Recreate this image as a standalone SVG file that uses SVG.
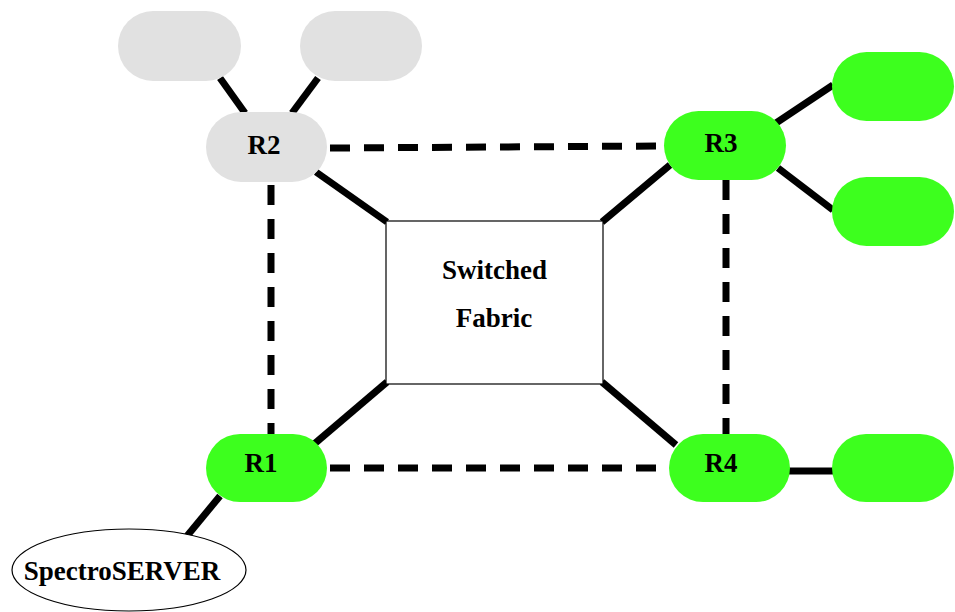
<svg xmlns="http://www.w3.org/2000/svg" width="955" height="612" viewBox="0 0 955 612">
<style>
.solid{stroke:#000;stroke-width:7;fill:none}
.dash{stroke:#000;stroke-width:7;fill:none;stroke-dasharray:20 14}
.gray{fill:#e1e1e1}
.green{fill:#3dff1e}
.lbl{font-family:"Liberation Serif","Times New Roman",serif;font-weight:bold;font-size:27px;fill:#000;text-anchor:middle}
</style>
<rect width="955" height="612" fill="#fff"/>
<g id="connectors">
<line class="solid" x1="220" y1="78" x2="245" y2="113"/>
<line class="solid" x1="318" y1="78" x2="292" y2="113"/>
<line class="solid" x1="316" y1="172" x2="387" y2="222"/>
<line class="solid" x1="670" y1="165" x2="602" y2="222"/>
<line class="solid" x1="776" y1="123" x2="833" y2="85"/>
<line class="solid" x1="778" y1="168" x2="833" y2="210"/>
<line class="solid" x1="313" y1="445" x2="387" y2="382"/>
<line class="solid" x1="602" y1="382" x2="676" y2="445"/>
<line class="solid" x1="789" y1="471" x2="833" y2="471"/>
<line class="solid" x1="220" y1="496" x2="187" y2="536"/>
<line class="dash" x1="330" y1="148" x2="664" y2="146"/>
<line class="dash" x1="271" y1="185" x2="271" y2="434"/>
<line class="dash" x1="330" y1="468" x2="669" y2="468"/>
<line class="dash" x1="726" y1="180" x2="726" y2="434"/>
</g>
<g id="g1"><rect class="gray" x="118" y="11" width="123" height="70" rx="35"/></g>
<g id="g2"><rect class="gray" x="300" y="11" width="122" height="70" rx="35"/></g>
<g id="R2"><rect class="gray" x="206" y="112" width="121" height="70" rx="35"/><text class="lbl" x="264" y="154">R2</text></g>
<g id="R3"><rect class="green" x="664" y="111" width="122" height="69" rx="34.5"/><text class="lbl" x="721" y="152">R3</text></g>
<g id="n3a"><rect class="green" x="832" y="52" width="122" height="69" rx="34.5"/></g>
<g id="n3b"><rect class="green" x="832" y="177" width="122" height="69" rx="34.5"/></g>
<g id="fabric"><rect x="386" y="221" width="217" height="163" fill="#fff" stroke="#000" stroke-width="1.2"/>
<text class="lbl" x="494.5" y="279">Switched</text>
<text class="lbl" x="494" y="327">Fabric</text></g>
<g id="R1"><rect class="green" x="206" y="434" width="121" height="68" rx="34"/><text class="lbl" x="261" y="472">R1</text></g>
<g id="R4"><rect class="green" x="669" y="434" width="121" height="68" rx="34"/><text class="lbl" x="721" y="472">R4</text></g>
<g id="n4"><rect class="green" x="832" y="434" width="122" height="68" rx="34"/></g>
<g id="spectro"><ellipse cx="129" cy="570" rx="117" ry="41" fill="#fff" stroke="#000" stroke-width="1.2"/>
<text class="lbl" x="122" y="580">SpectroSERVER</text></g>
</svg>
